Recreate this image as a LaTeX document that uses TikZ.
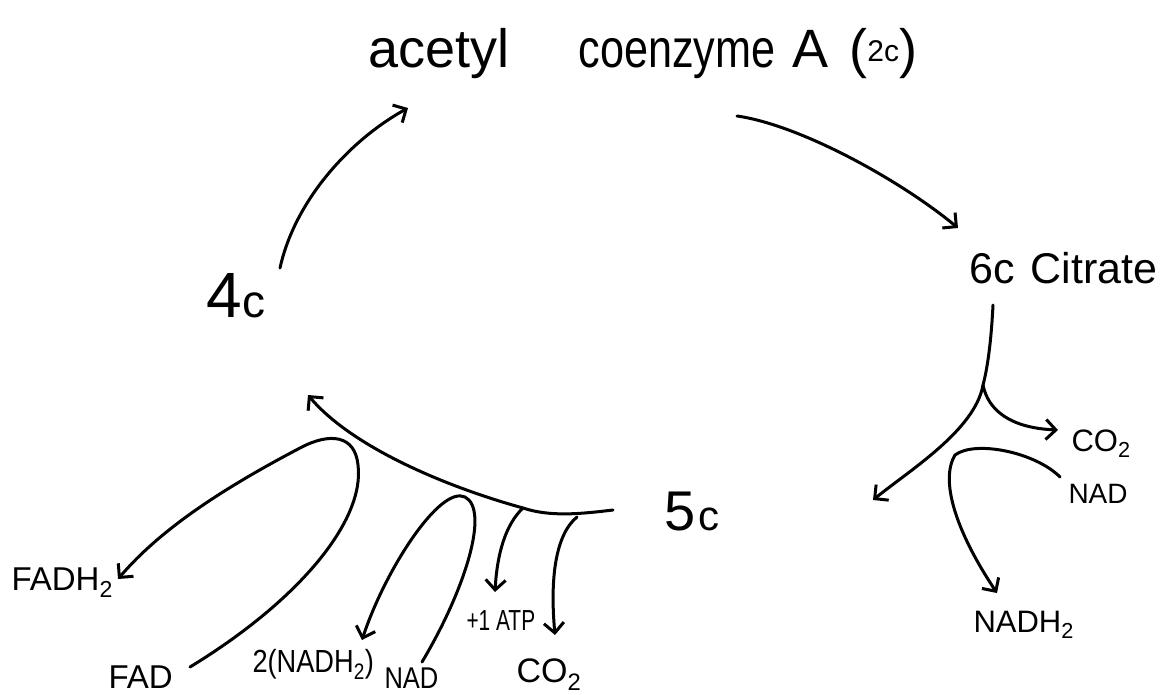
\documentclass[tikz,border=0pt]{standalone}
\usepackage{fontspec}
\setmainfont{Liberation Sans}
\usetikzlibrary{arrows.meta}
\newcommand{\fs}[1]{\fontsize{#1}{#1}\selectfont}
\begin{document}
\begin{tikzpicture}[x=1pt,y=-1pt,
  line width=3pt, line cap=round, line join=round,
  arr/.style={-{Straight Barb[length=10pt,width=20pt]}},
  lbl/.style={inner sep=0pt, anchor=base west},
  big/.style={lbl, font=\fs{54}}]
\useasboundingbox (0,0) rectangle (1174,695);
% texts
\node[big] (acetyl) at (367,68) {acetyl};
\node[big] (coenzyme) at (577,68) {\scalebox{0.8}[1]{coenzyme}};
\node[big] (coA) at (791,68) {A};
\node[big] (twoc) at (848,68) {(\raisebox{6pt}{\fs{30}2c})};
\node[lbl, font=\fs{43}] (citrate) at (968,283) {6c\hspace{16pt}Citrate};
\node[lbl] (fourc) at (205,317) {{\fs{64}4}{\fs{46}c}};
\node[lbl] (fivec) at (663,530) {{\fs{56}5}\hspace{3pt}{\fs{42}c}};
\node[lbl, font=\fs{33}] (fadh) at (10,590) {FADH\textsubscript{2}};
\node[lbl, font=\fs{33}] (fad) at (107,688) {FAD};
\node[lbl, font=\fs{32}] (nadh2b) at (251,672) {\scalebox{0.85}[1]{2(NADH\textsubscript{2})}};
\node[lbl, font=\fs{30}] (nadb) at (383,688) {\scalebox{0.85}[1]{NAD}};
\node[lbl, font=\fs{29}] (atp) at (465,630) {\scalebox{0.72}[1]{+1 ATP}};
\node[lbl, font=\fs{34}] (co2b) at (515,682) {CO\textsubscript{2}};
\node[lbl, font=\fs{31}] (co2r) at (1070,451) {CO\textsubscript{2}};
\node[lbl, font=\fs{28}] (nadr) at (1067,503) {NAD};
\node[lbl, font=\fs{31}] (nadh2r) at (972,632) {NADH\textsubscript{2}};
% connector points
\coordinate (f4s) at (280,268);
\coordinate (acin) at (408,108);
\coordinate (coout) at (737,116);
\coordinate (citin) at (958,228);
\coordinate (citout) at (993,305);
\coordinate (junc) at (983,385);
\coordinate (lefttip) at (873,500);
\coordinate (co2rtip) at (1058,430);
\coordinate (nadrs) at (1060,477);
\coordinate (nadh2rtip) at (997,593);
\coordinate (fives) at (613,510);
\coordinate (atpj) at (523,508);
\coordinate (co2j) at (577,517);
\coordinate (fourin) at (308,395);
\coordinate (atptip) at (495,592);
\coordinate (co2btip) at (555,635);
\coordinate (nadbs) at (422,662);
\coordinate (nadh2btip) at (362,640);
\coordinate (fads) at (190,667);
\coordinate (fadhtip) at (118,579);
% connectors
\draw[arr] (f4s) .. controls (295,200) and (350,140) .. (acin);
\draw[arr] (coout) .. controls (800,125) and (900,180) .. (citin);
\draw[arr] (citout) .. controls (991,345) and (987,370) .. (junc)
   .. controls (975,430) and (910,470) .. (lefttip);
\draw[arr] (junc) .. controls (988,410) and (1010,428) .. (co2rtip);
\draw[arr] (nadrs) .. controls (1035,452) and (975,440) .. (955,455)
   .. controls (940,480) and (955,530) .. (nadh2rtip);
\draw[arr] (fives) .. controls (580,514) and (550,517) .. (atpj)
   .. controls (440,485) and (350,445) .. (fourin);
\draw[arr] (atpj) .. controls (505,525) and (497,555) .. (atptip);
\draw[arr] (co2j) .. controls (555,535) and (550,580) .. (co2btip);
\draw[arr] (nadbs) .. controls (465,590) and (490,510) .. (465,497)
   .. controls (440,485) and (385,570) .. (nadh2btip);
\draw[arr] (fads) .. controls (300,600) and (365,520) .. (358,465)
   .. controls (355,435) and (330,432) .. (300,448)
   .. controls (220,490) and (160,530) .. (fadhtip);
\end{tikzpicture}
\end{document}
